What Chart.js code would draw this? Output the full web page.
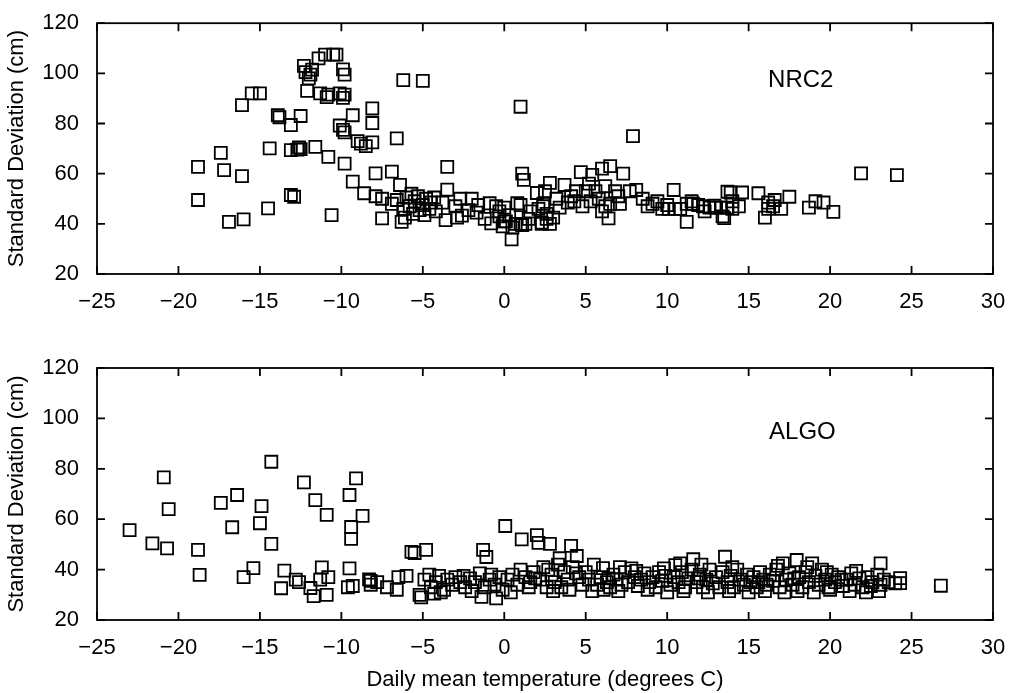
<!DOCTYPE html>
<html>
<head>
<meta charset="utf-8">
<script src="https://cdn.jsdelivr.net/npm/chart.js@4.4.0/dist/chart.umd.min.js"></script>
<style>
  html, body { margin: 0; padding: 0; background: #fff; }
  #wrap { position: relative; width: 1015px; height: 693px; }
  canvas { position: absolute; left: 0; }
  #top { top: 0; }
  #bottom { top: 320px; }
</style>
</head>
<body>
<div id="wrap">
  <canvas id="top" width="1015" height="320"></canvas>
  <canvas id="bottom" width="1015" height="373"></canvas>
</div>
<script>
// x range / ticks shared by both panels
const tempTicks = [-25, -20, -15, -10, -5, 0, 5, 10, 15, 20, 25, 30];
const stdTicks = [20, 40, 60, 80, 100, 120];

// NRC2 station: [daily mean temperature, standard deviation]
const nrc2Points = [
  [-18.8, 62.7], [-18.8, 49.5], [-17.4, 68.3], [-17.2, 61.4], [-16.9, 40.8], [-16.1, 87.3],
  [-16.1, 59], [-16.0, 41.8], [-15.5, 92], [-15.0, 92], [-14.5, 46.2], [-14.4, 70.1],
  [-13.9, 83.3], [-13.8, 82.5], [-13.1, 79.4], [-13.1, 51.5], [-12.9, 50.8], [-12.5, 83],
  [-13.1, 69.4], [-12.7, 69.6], [-12.5, 69.8], [-12.6, 70.5], [-11.6, 70.7], [-10.8, 66.7],
  [-10.6, 43.5], [-12.1, 93], [-12.3, 103], [-12.2, 100.5], [-11.9, 99.5], [-11.8, 101.5],
  [-12.0, 98], [-11.4, 106], [-11.0, 107.5], [-10.5, 107.5], [-10.3, 107.5], [-9.9, 101.6],
  [-9.8, 99.5], [-11.3, 92], [-10.9, 90.5], [-10.8, 91.5], [-10.1, 92], [-9.9, 90.2],
  [-9.8, 91.5], [-10.1, 79.2], [-9.9, 77.5], [-9.8, 76.5], [-9.3, 83.3], [-9.0, 73],
  [-8.8, 72], [-8.5, 71], [-8.1, 72.5], [-8.1, 86], [-8.1, 80.2], [-6.6, 74.1],
  [-6.2, 97.3], [-5.0, 97], [-9.8, 64], [-9.3, 56.8], [-8.6, 52.2], [-7.9, 60.1],
  [-6.9, 60.8], [-7.9, 51], [-7.5, 50], [-7.5, 42.2], [-6.4, 55.5], [-6.3, 40.8],
  [-6.9, 48], [-6.6, 49.5], [-6.2, 46], [-6.0, 50.5], [-5.8, 47], [-5.6, 44],
  [-5.5, 49], [-5.3, 51], [-5.2, 45.5], [-5.0, 47.5], [-4.9, 43.5], [-4.8, 50],
  [-4.6, 46], [-4.5, 48.5], [-6.1, 42.5], [-5.7, 52], [-3.5, 53.6], [-3.6, 41.5],
  [-2.7, 50], [-2.0, 50], [-2.6, 43.3], [-1.7, 44.5], [-0.9, 48.2], [-0.8, 40.2],
  [-0.5, 47], [-0.3, 43], [0.0, 46.5], [0.1, 41], [-0.1, 39], [0.8, 48.2],
  [0.7, 40], [1.0, 40], [1.3, 40], [1.0, 47.5], [2.0, 52.3], [2.5, 53],
  [2.8, 56.3], [2.1, 46], [2.4, 47], [2.6, 42], [2.8, 40], [2.3, 40],
  [3.4, 46.5], [3.7, 55.5], [4.1, 51], [4.4, 53], [5.0, 53], [5.2, 56],
  [5.6, 53], [6.0, 45], [6.2, 47], [6.5, 48], [6.8, 53], [7.1, 48],
  [7.7, 53], [8.5, 50], [9.1, 48], [9.7, 46], [10.1, 46], [10.5, 46],
  [11.2, 48], [11.6, 48], [11.9, 47.5], [12.6, 46.5], [13.0, 46.5], [13.3, 46.5],
  [13.7, 46.5], [14.0, 46], [13.9, 52.5], [14.6, 52.5], [4.7, 60.6], [5.4, 59.5],
  [6.0, 62], [6.5, 63], [7.3, 60], [6.4, 42.2], [4.3, 49], [1.1, 60],
  [1.2, 57.5], [1.0, 86.7], [7.9, 75], [0.45, 33.8], [-3.5, 62.7], [10.4, 53.5],
  [11.2, 40.8], [13.5, 42.3], [21.9, 60.1], [24.1, 59.4], [15.6, 52.2], [17.5, 50.8],
  [20.2, 44.8], [18.7, 46.5], [19.1, 49], [19.6, 48.5], [16.2, 48.5], [16.5, 47],
  [16.0, 42.5], [17.0, 46], [14.0, 49], [13.4, 43], [13.7, 52.8], [16.2, 46],
  [16.6, 49.5], [14.4, 47], [12.9, 47.2], [8.8, 47], [9.4, 49], [10.0, 47.5],
  [10.8, 46], [11.5, 49], [12.2, 47], [12.3, 45], [8.1, 53.5], [7.0, 51],
  [6.2, 55], [5.8, 50], [5.3, 49], [4.8, 47], [3.9, 48.5], [3.2, 50],
  [2.4, 48], [1.6, 45], [1.5, 42], [0.3, 43.5], [-0.3, 45], [-1.2, 42],
  [-2.2, 45.5], [-3.0, 47], [-3.8, 48.5], [-4.2, 45], [-4.3, 50.5], [-2.9, 42.5],
  [-1.6, 47.5], [0.0, 41], [0.5, 38.5], [1.1, 39.5], [2.3, 40.5], [2.6, 44],
  [3.0, 42.5]
];

// ALGO station: [daily mean temperature, standard deviation]
const algoPoints = [
  [-23.0, 55.7], [-21.6, 50.4], [-20.9, 76.6], [-20.6, 64], [-20.7, 48.4], [-18.8, 47.8],
  [-18.7, 37.9], [-17.4, 66.5], [-16.7, 56.8], [-16.4, 69.6], [-16.0, 37], [-15.4, 40.6],
  [-14.9, 65.2], [-15.0, 58.4], [-14.3, 82.8], [-14.3, 50.2], [-13.7, 32.6], [-13.5, 39.6],
  [-12.8, 36], [-12.6, 35], [-12.3, 74.6], [-11.9, 32.7], [-11.7, 29.5], [-11.6, 67.6],
  [-11.2, 40.9], [-11.3, 36], [-10.8, 37], [-10.9, 30], [-10.9, 61.7], [-9.5, 69.6],
  [-9.1, 76.2], [-9.4, 56.9], [-9.4, 52.2], [-8.7, 61.3], [-9.5, 40.5], [-9.6, 33],
  [-9.3, 33.5], [-8.3, 36.1], [-8.2, 35.5], [-8.2, 34], [-6.6, 32], [-6.5, 37],
  [-6.0, 37.5], [-5.7, 47], [-5.5, 46.6], [-5.2, 30], [-5.1, 29], [-4.8, 47.8],
  [-4.9, 36], [-4.6, 38], [-4.5, 33], [-4.2, 35], [-4.0, 37.5], [-3.7, 32],
  [-3.5, 36], [-3.2, 34], [-3.0, 37], [-2.7, 35], [-2.4, 33], [-2.1, 36.5],
  [-1.8, 35], [-1.5, 38.5], [-1.3, 47.8], [-1.1, 45], [-1.4, 29.2], [-1.2, 33],
  [-0.9, 36], [-0.5, 28.6], [-0.6, 34], [-0.3, 37], [-0.1, 32], [0.06, 57.3],
  [0.2, 36], [0.5, 38], [0.8, 34], [1.07, 52], [1.0, 40], [1.3, 37],
  [1.6, 35], [1.8, 39], [2.0, 53.7], [2.1, 50.6], [2.2, 36], [2.4, 41],
  [2.6, 33], [2.8, 50.2], [2.9, 38], [3.1, 35], [3.3, 42], [3.4, 44.5],
  [3.5, 33], [3.7, 39], [3.9, 36], [4.1, 49.4], [4.2, 41], [4.45, 45.4],
  [4.6, 37], [4.8, 34], [5.0, 39], [5.2, 36], [5.5, 42], [5.7, 34],
  [5.9, 37], [6.06, 40.6], [6.3, 35], [6.5, 33], [6.7, 38], [6.9, 36],
  [7.2, 34], [7.4, 39], [7.6, 35], [7.8, 40.5], [8.0, 37], [8.2, 33.5],
  [8.4, 36], [8.6, 38.5], [8.9, 35], [9.1, 37], [9.3, 33], [9.5, 39],
  [9.7, 35.5], [9.9, 37.5], [10.2, 34], [10.5, 41.8], [10.4, 37], [10.7, 35],
  [10.9, 39], [11.1, 33], [11.3, 36.5], [11.6, 44.1], [11.5, 40], [11.8, 35],
  [12.0, 38], [12.2, 33], [12.4, 36], [12.6, 40], [12.8, 34.5], [13.0, 37],
  [13.2, 33], [13.55, 45.1], [13.4, 39], [13.7, 35], [13.9, 37.5], [14.1, 33],
  [14.3, 40], [14.5, 36], [14.7, 34], [14.9, 38], [15.1, 35], [15.3, 37],
  [15.5, 33], [15.7, 39], [15.9, 36], [16.1, 34], [16.3, 38], [16.5, 35.5],
  [16.7, 40], [16.9, 33], [17.1, 42.5], [17.3, 36], [17.5, 38.5], [17.7, 34],
  [17.95, 43.8], [18.1, 37], [18.3, 33], [18.5, 39], [18.7, 35], [18.9, 42.5],
  [19.1, 37.5], [19.3, 34], [19.5, 40], [19.7, 36], [19.9, 33], [20.1, 38],
  [20.3, 35], [20.5, 37], [20.8, 33.5], [21.0, 36], [21.3, 38.5], [21.5, 34],
  [21.8, 36.5], [22.0, 33], [22.3, 37], [22.6, 35], [22.9, 38], [23.1, 42.5],
  [23.1, 34], [23.3, 36], [23.6, 35], [24.0, 34.5], [24.3, 36.6], [24.3, 34.6],
  [26.8, 33.6], [-7.2, 33], [-7.8, 35], [-4.3, 30.5], [-3.9, 31], [-2.0, 31.5],
  [0.4, 31], [1.5, 33], [3.0, 31.5], [4.0, 32], [5.4, 31.5], [6.1, 32],
  [7.0, 31.5], [8.8, 32], [10.0, 31], [11.0, 31.5], [12.5, 31], [13.8, 31.5],
  [15.0, 31], [16.0, 31.5], [17.2, 31], [18.0, 31.5], [19.0, 31], [20.0, 32],
  [21.2, 31.5], [22.2, 31], [23.0, 31.5], [12.1, 42], [16.8, 41.5], [18.6, 41],
  [9.8, 40.5], [7.1, 41], [2.7, 40], [-0.8, 38], [19.8, 39], [14.0, 41],
  [10.8, 42.5], [6.4, 36.5], [8.1, 39.5], [11.9, 36.5], [15.6, 35], [17.8, 36.5],
  [20.7, 36], [22.5, 33.5], [21.6, 39.5], [4.4, 38.5], [1.9, 36.5], [-2.5, 37.5]
];

const framePlugin = {
  id: 'frame',
  afterDraw(chart, args, opts) {
    const { ctx, chartArea: a, scales: { x, y } } = chart;
    ctx.save();
    ctx.strokeStyle = '#000';
    ctx.lineWidth = 1.8;
    ctx.strokeRect(a.left, a.top, a.right - a.left, a.bottom - a.top);
    ctx.beginPath();
    x.ticks.forEach(t => {
      const px = x.getPixelForValue(t.value);
      ctx.moveTo(px, a.bottom); ctx.lineTo(px, a.bottom - 8);
      ctx.moveTo(px, a.top); ctx.lineTo(px, a.top + 8);
    });
    y.ticks.forEach(t => {
      const py = y.getPixelForValue(t.value);
      ctx.moveTo(a.left, py); ctx.lineTo(a.left + 8, py);
      ctx.moveTo(a.right, py); ctx.lineTo(a.right - 8, py);
    });
    ctx.stroke();
    ctx.fillStyle = '#000';
    ctx.font = '24px "Liberation Sans", Arial, sans-serif';
    ctx.textAlign = 'center';
    ctx.textBaseline = 'middle';
    ctx.fillText(opts.label, x.getPixelForValue(opts.lx), y.getPixelForValue(opts.ly));
    ctx.restore();
  }
};

const tickFont = { family: '"Liberation Sans", Arial, sans-serif', size: 22 };

function makePanel(canvasId, points, label, lx, ly, padTop, xHeight, xTitle) {
  return new Chart(document.getElementById(canvasId), {
    type: 'scatter',
    data: {
      datasets: [{
        data: points.map(p => ({ x: p[0], y: p[1] })),
        pointStyle: 'rect',
        pointRadius: 8.5,
        pointHoverRadius: 8.5,
        borderWidth: 1.8,
        borderColor: '#000',
        backgroundColor: 'rgba(0,0,0,0)'
      }]
    },
    options: {
      responsive: false,
      animation: false,
      devicePixelRatio: 1,
      layout: { padding: { top: padTop, right: 22, left: 0, bottom: 0 } },
      plugins: {
        legend: { display: false },
        tooltip: { enabled: false },
        frame: { label: label, lx: lx, ly: ly }
      },
      scales: {
        x: {
          type: 'linear',
          min: tempTicks[0],
          max: tempTicks[tempTicks.length - 1],
          afterBuildTicks: s => { s.ticks = tempTicks.map(v => ({ value: v })); },
          grid: { display: false },
          border: { display: false },
          ticks: { color: '#000', font: tickFont, padding: 7, maxRotation: 0,
                   callback: v => v < 0 ? '\u2212' + Math.abs(v) : String(v) },
          title: { display: !!xTitle, text: xTitle || '', color: '#000', font: tickFont,
                   padding: { top: 9, bottom: 0 } },
          afterFit: s => { s.height = xHeight; }
        },
        y: {
          type: 'linear',
          min: stdTicks[0],
          max: stdTicks[stdTicks.length - 1],
          afterBuildTicks: s => { s.ticks = stdTicks.map(v => ({ value: v })); },
          grid: { display: false },
          border: { display: false },
          ticks: { color: '#000', font: tickFont, padding: 10 },
          title: { display: true, text: 'Standard Deviation (cm)', color: '#000', font: tickFont,
                   padding: { top: 4, bottom: 0 } },
          afterFit: s => { s.width = 97; }
        }
      }
    },
    plugins: [framePlugin]
  });
}

makePanel('top', nrc2Points, 'NRC2', 18.2, 97.3, 23, 46, null);
makePanel('bottom', algoPoints, 'ALGO', 18.3, 94.6, 48, 73, 'Daily mean temperature (degrees C)');
</script>
</body>
</html>
